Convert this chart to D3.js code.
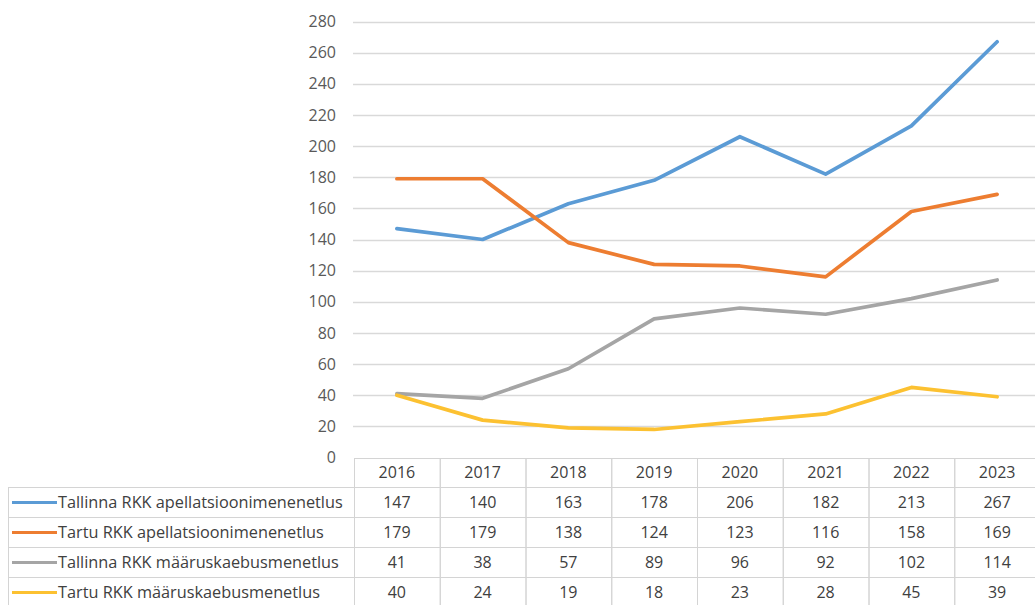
<!DOCTYPE html>
<html>
<head>
<meta charset="utf-8">
<script src="https://cdn.jsdelivr.net/npm/d3@7"></script>
<style>
  html, body { margin: 0; padding: 0; background: #ffffff; }
  svg { display: block; }
  text { font-family: "Open Sans", "Noto Sans", sans-serif; }
</style>
</head>
<body>
<svg id="chart" width="1035" height="605"></svg>
<script>
const years = ["2016", "2017", "2018", "2019", "2020", "2021", "2022", "2023"];
const seriesNames = [
  "Tallinna RKK apellatsioonimenenetlus",
  "Tartu RKK apellatsioonimenenetlus",
  "Tallinna RKK määruskaebusmenetlus",
  "Tartu RKK määruskaebusmenetlus"
];
const tallinnaApell = [147, 140, 163, 178, 206, 182, 213, 267];
const tartuApell = [179, 179, 138, 124, 123, 116, 158, 169];
const tallinnaMaarus = [41, 38, 57, 89, 96, 92, 102, 114];
const tartuMaarus = [40, 24, 19, 18, 23, 28, 45, 39];
const seriesColors = ["#5b9bd5", "#ed7d31", "#a5a5a5", "#fcc131"];
const yTicks = [0, 20, 40, 60, 80, 100, 120, 140, 160, 180, 200, 220, 240, 260, 280];

const series = [tallinnaApell, tartuApell, tallinnaMaarus, tartuMaarus];

const svg = d3.select("#chart");
const W = 1035;
const tableLeft = 8, colLeft = 354, colRight = 1040;
const y0 = 457.5, yTop = 21.5;
const headerTop = 458, rowH = 30;

const x = d3.scaleBand().domain(years).range([colLeft, colRight]);
const y = d3.scaleLinear().domain([0, 280]).range([y0, yTop]);
const cx = d => x(d) + x.bandwidth() / 2;

// gridlines
svg.append("g").selectAll("line").data(yTicks.filter(t => t > 0)).join("line")
  .attr("x1", colLeft - 1).attr("x2", W)
  .attr("y1", d => Math.round(y(d)) + 0.5).attr("y2", d => Math.round(y(d)) + 0.5)
  .attr("stroke", "#d9d9d9").attr("stroke-width", 1.3);

// y axis labels
const yAxis = d3.axisLeft(y).tickValues(yTicks).tickSize(0).tickPadding(0);
const gy = svg.append("g").attr("transform", "translate(336,0)").call(yAxis);
gy.select(".domain").remove();
gy.selectAll("text").attr("font-size", 16).attr("fill", "#595959")
  .attr("font-family", "'Open Sans', sans-serif");

// table
const tbl = svg.append("g");
const lineColor = "#d4d4d4";
tbl.selectAll("rect.h").data(years).join("rect")
  .attr("x", d => x(d) + 0.5).attr("y", headerTop + 0.5)
  .attr("width", x.bandwidth()).attr("height", rowH - 1)
  .attr("fill", "none").attr("stroke", lineColor);
tbl.selectAll("text.h").data(years).join("text")
  .attr("x", d => cx(d)).attr("y", headerTop + rowH / 2 + 1)
  .attr("text-anchor", "middle").attr("dominant-baseline", "middle")
  .attr("font-size", 16).attr("fill", "#404040").text(d => d);

series.forEach((vals, i) => {
  const top = headerTop + rowH * (i + 1) - 1;
  const g = tbl.append("g");
  g.append("rect").attr("x", tableLeft + 0.5).attr("y", top + 0.5)
    .attr("width", colLeft - tableLeft).attr("height", rowH)
    .attr("fill", "none").attr("stroke", lineColor);
  g.selectAll("rect.c").data(years).join("rect")
    .attr("x", d => x(d) + 0.5).attr("y", top + 0.5)
    .attr("width", x.bandwidth()).attr("height", rowH)
    .attr("fill", "none").attr("stroke", lineColor);
  g.append("line").attr("x1", 12).attr("x2", 57)
    .attr("y1", top + rowH / 2 + 0.5).attr("y2", top + rowH / 2 + 0.5)
    .attr("stroke", seriesColors[i]).attr("stroke-width", 3);
  g.append("text").attr("x", 58).attr("y", top + rowH / 2 + 1.5)
    .attr("dominant-baseline", "middle").attr("font-size", 16.3)
    .attr("fill", "#404040").text(seriesNames[i]);
  g.selectAll("text.v").data(vals).join("text")
    .attr("x", (d, j) => cx(years[j])).attr("y", top + rowH / 2 + 1.5)
    .attr("text-anchor", "middle").attr("dominant-baseline", "middle")
    .attr("font-size", 16).attr("fill", "#404040").text(d => d);
});

// lines
const line = d3.line().x((d, j) => cx(years[j])).y(d => y(d));
series.forEach((vals, i) => {
  svg.append("path").datum(vals).attr("d", line)
    .attr("fill", "none").attr("stroke", seriesColors[i])
    .attr("stroke-width", 3.7).attr("stroke-linejoin", "round").attr("stroke-linecap", "round");
});
</script>
</body>
</html>
